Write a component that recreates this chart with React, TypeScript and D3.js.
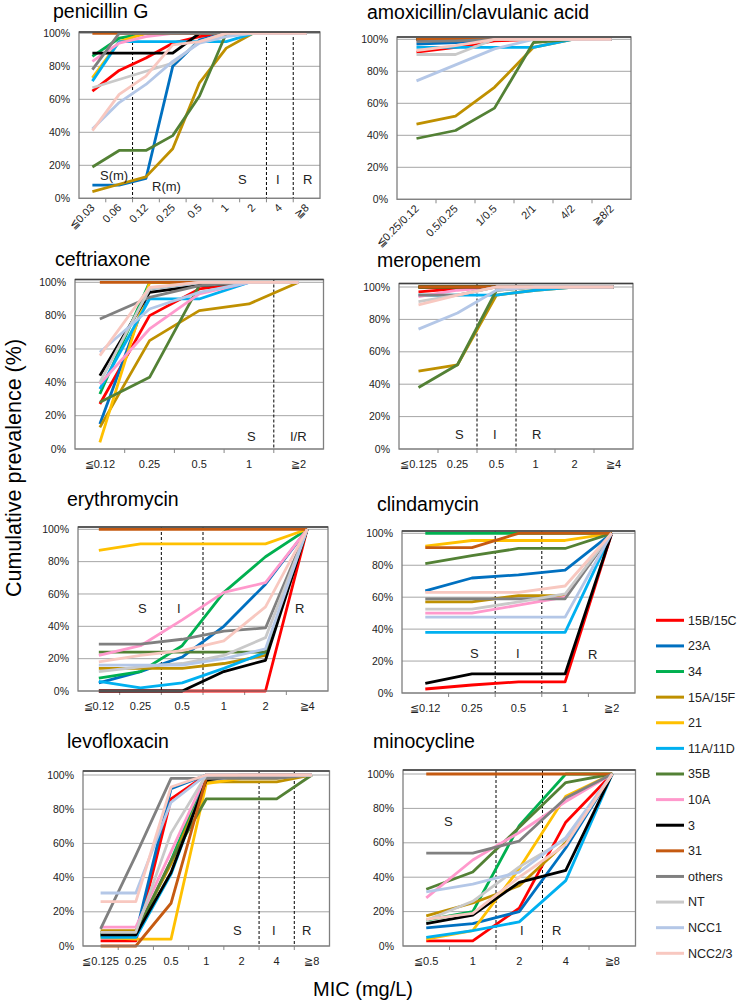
import React from "react";
import * as d3 from "d3";

const SERIES = ["15B/15C", "23A", "34", "15A/15F", "21", "11A/11D", "35B", "10A", "3", "31", "others", "NT", "NCC1", "NCC2/3"];
const COLORS = ["#FF0000", "#0070C0", "#00B050", "#BF9000", "#FFC000", "#00B0F0", "#538135", "#FF99CC", "#000000", "#C55A11", "#808080", "#C9C9C9", "#B4C7E7", "#F8C8C0"];
const Y_TICKS = [0, 20, 40, 60, 80, 100];

// penicillin G
const penCats = ["≦0.03", "0.06", "0.12", "0.25", "0.5", "1", "2", "4", "≧8"];
const penVals = [
  [65, 77.5, 85, 94, 98, 100, 100, 100, 100],
  [8, 8, 12, 80, 96, 100, 100, 100, 100],
  [86, 97, 100, 100, 100, 100, 100, 100, 100],
  [4, 8.5, 13, 30, 70, 91, 100, 100, 100],
  [73, 95, 100, 100, 100, 100, 100, 100, 100],
  [71, 95, 95, 95, 95, 95, 100, 100, 100],
  [19, 29, 29, 38, 62, 100, 100, 100, 100],
  [83, 94, 98, 100, 100, 100, 100, 100, 100],
  [88, 88, 88, 88, 100, 100, 100, 100, 100],
  [100, 100, 100, 100, 100, 100, 100, 100, 100],
  [78, 100, 100, 100, 100, 100, 100, 100, 100],
  [67, 72, 77, 82, 95, 100, 100, 100, 100],
  [42, 58, 69, 83, 94, 98, 100, 100, 100],
  [41, 63, 74, 93, 95, 100, 100, 100, 100],
];

// amoxicillin/clavulanic acid
const amoxCats = ["≦0.25/0.12", "0.5/0.25", "1/0.5", "2/1", "4/2", "≧8/2"];
const amoxVals = [
  [92, 95, 99, 100, 100, 100],
  [97, 98, 100, 100, 100, 100],
  [100, 100, 100, 100, 100, 100],
  [47, 52, 70, 95, 100, 100],
  [100, 100, 100, 100, 100, 100],
  [95, 95, 95, 95, 100, 100],
  [38, 43, 57, 98, 100, 100],
  [99, 100, 100, 100, 100, 100],
  [100, 100, 100, 100, 100, 100],
  [100, 100, 100, 100, 100, 100],
  [98.5, 99, 100, 100, 100, 100],
  [90.5, 90.5, 100, 100, 100, 100],
  [74, 84, 94, 100, 100, 100],
  [93, 96, 100, 100, 100, 100],
];

// ceftriaxone
const ceftCats = ["≦0.12", "0.25", "0.5", "1", "≧2"];
const ceftVals = [
  [27, 80, 96, 100, 100],
  [15, 96, 100, 100, 100],
  [33, 100, 100, 100, 100],
  [13, 65, 83, 87, 100],
  [4, 100, 100, 100, 100],
  [36, 90, 90, 100, 100],
  [28, 43, 98, 100, 100],
  [39, 72, 93, 100, 100],
  [44, 94, 98, 100, 100],
  [100, 100, 100, 100, 100],
  [78, 91, 98, 100, 100],
  [40, 96, 100, 100, 100],
  [58, 84, 94, 100, 100],
  [56, 97, 100, 100, 100],
];

// meropenem
const meroCats = ["≦0.125", "0.25", "0.5", "1", "2", "≧4"];
const meroVals = [
  [97, 99, 100, 100, 100, 100],
  [100, 100, 100, 100, 100, 100],
  [100, 100, 100, 100, 100, 100],
  [48, 52, 95, 98, 100, 100],
  [100, 100, 100, 100, 100, 100],
  [95, 95, 95, 98, 100, 100],
  [38, 52, 98, 100, 100, 100],
  [94, 98, 100, 100, 100, 100],
  [100, 100, 100, 100, 100, 100],
  [100, 100, 100, 100, 100, 100],
  [95, 95, 100, 100, 100, 100],
  [91, 95, 100, 100, 100, 100],
  [74, 84, 98, 100, 100, 100],
  [89, 95, 100, 100, 100, 100],
];

// erythromycin
const eryCats = ["≦0.12", "0.25", "0.5", "1", "2", "≧4"];
const eryVals = [
  [0, 0, 0, 0, 0, 100],
  [5, 12, 21, 40, 66, 100],
  [8, 12, 28, 61, 83, 100],
  [14, 14, 14, 17, 22, 100],
  [87, 91, 91, 91, 91, 100],
  [6, 2, 5, 14, 24, 100],
  [24, 24, 24, 24, 24, 100],
  [22, 28, 44, 61, 67, 100],
  [0, 0, 0, 12, 19, 100],
  [100, 100, 100, 100, 100, 100],
  [29, 29, 32, 37, 39, 100],
  [12, 15, 17, 22, 33, 100],
  [16, 16, 16, 20, 26, 100],
  [18, 22, 25, 31, 52, 100],
];

// clindamycin
const clinCats = ["≦0.12", "0.25", "0.5", "1", "≧2"];
const clinVals = [
  [2.5, 5, 7, 7, 100],
  [64, 72, 74, 77, 100],
  [100, 100, 100, 100, 100],
  [57, 57, 61, 61, 100],
  [92, 95.5, 95.5, 95.5, 100],
  [38, 38, 38, 38, 100],
  [81, 86, 90.5, 90.5, 100],
  [50, 50, 55, 60, 100],
  [6, 12, 12, 12, 100],
  [91, 91, 100, 100, 100],
  [59, 59, 59, 59, 100],
  [52.5, 52.5, 57, 62, 100],
  [47.5, 47.5, 47.5, 47.5, 100],
  [63, 63, 63, 67, 100],
];

// levofloxacin
const levoCats = ["≦0.125", "0.25", "0.5", "1", "2", "4", "≧8"];
const levoVals = [
  [3, 3, 86, 100, 100, 100, 100],
  [7, 7, 92, 100, 100, 100, 100],
  [6, 6, 50, 100, 100, 100, 100],
  [9, 9, 48, 96, 96, 96, 100],
  [5, 4, 4, 95, 98, 98, 100],
  [5, 5, 42, 98, 100, 100, 100],
  [8, 8, 50, 86, 86, 86, 100],
  [11, 11, 55, 100, 100, 100, 100],
  [6.5, 6.5, 43, 97, 100, 100, 100],
  [0, 0, 25, 98, 100, 100, 100],
  [10, 53, 98, 98, 98, 98, 100],
  [8, 8, 66, 100, 100, 100, 100],
  [31, 31, 84, 100, 100, 100, 100],
  [26, 26, 93, 100, 100, 100, 100],
];

// minocycline
const minoCats = ["≦0.5", "1", "2", "4", "≧8"];
const minoVals = [
  [3, 3, 22, 72, 100],
  [10.5, 13, 20, 57, 100],
  [15, 20, 70, 100, 100],
  [17.5, 25, 35, 60, 100],
  [4, 9, 45, 87, 100],
  [5, 9, 14, 38, 100],
  [33, 43, 69, 95, 100],
  [28, 50, 66, 84, 100],
  [13, 18, 37, 44, 100],
  [100, 100, 100, 100, 100],
  [54, 54, 61, 86, 100],
  [15, 26, 46, 62, 100],
  [31.5, 36, 43, 63, 100],
  [15.5, 19, 40, 59, 100],
];

const FONT = "'Liberation Sans', Arial, sans-serif";

type Zone = { t: string; x: number; y: number };
type Layout = {
  left: number; right: number; frameTop: number; y100: number; y0: number;
  titleX: number; titleY: number; rotate: boolean; dashed: number[]; zones: Zone[];
};

const panels: { title: string; cats: string[]; vals: number[][]; L: Layout }[] = [
  { title: "penicillin G", cats: penCats, vals: penVals, L: { left: 79, right: 320, frameTop: 32, y100: 33.3, y0: 198.3, titleX: 53, titleY: 18, rotate: true, dashed: [2, 7, 8],
    zones: [{ t: "S(m)", x: 100, y: 180 }, { t: "R(m)", x: 152, y: 191 }, { t: "S", x: 238, y: 184 }, { t: "I", x: 276, y: 184 }, { t: "R", x: 303, y: 184 }] } },
  { title: "amoxicillin/clavulanic acid", cats: amoxCats, vals: amoxVals, L: { left: 397, right: 631, frameTop: 37, y100: 39.3, y0: 199.3, titleX: 367, titleY: 19, rotate: true, dashed: [], zones: [] } },
  { title: "ceftriaxone", cats: ceftCats, vals: ceftVals, L: { left: 75, right: 323.5, frameTop: 279.5, y100: 282.3, y0: 449, titleX: 55, titleY: 265.5, rotate: false, dashed: [4],
    zones: [{ t: "S", x: 247, y: 441 }, { t: "I/R", x: 290, y: 441 }] } },
  { title: "meropenem", cats: meroCats, vals: meroVals, L: { left: 399, right: 633, frameTop: 283.5, y100: 287, y0: 449, titleX: 377, titleY: 267, rotate: false, dashed: [2, 3],
    zones: [{ t: "S", x: 455, y: 439 }, { t: "I", x: 493, y: 439 }, { t: "R", x: 532, y: 439 }] } },
  { title: "erythromycin", cats: eryCats, vals: eryVals, L: { left: 78, right: 328, frameTop: 527, y100: 529.3, y0: 691, titleX: 67, titleY: 506, rotate: false, dashed: [2, 3],
    zones: [{ t: "S", x: 138, y: 613 }, { t: "I", x: 177, y: 613 }, { t: "R", x: 295, y: 613 }] } },
  { title: "clindamycin", cats: clinCats, vals: clinVals, L: { left: 402, right: 635, frameTop: 531, y100: 533.3, y0: 693, titleX: 377, titleY: 511, rotate: false, dashed: [2, 3],
    zones: [{ t: "S", x: 470, y: 658 }, { t: "I", x: 516, y: 658 }, { t: "R", x: 588, y: 659 }] } },
  { title: "levofloxacin", cats: levoCats, vals: levoVals, L: { left: 83, right: 329.5, frameTop: 771, y100: 775, y0: 946, titleX: 67, titleY: 748, rotate: false, dashed: [5, 6],
    zones: [{ t: "S", x: 233, y: 935 }, { t: "I", x: 272, y: 935 }, { t: "R", x: 302, y: 935 }] } },
  { title: "minocycline", cats: minoCats, vals: minoVals, L: { left: 403, right: 635.5, frameTop: 770, y100: 774, y0: 946, titleX: 373, titleY: 748, rotate: false, dashed: [2, 3],
    zones: [{ t: "S", x: 444, y: 826 }, { t: "I", x: 520, y: 935 }, { t: "R", x: 552, y: 935 }] } },
];

function Panel({ title, cats, vals, L }: { title: string; cats: string[]; vals: number[][]; L: Layout }) {
  const x = d3.scaleBand<string>().domain(cats).range([L.left, L.right]).paddingInner(0).paddingOuter(0);
  const y = d3.scaleLinear().domain([0, 100]).range([L.y0, L.y100]);
  const bw = x.bandwidth();
  const cx = (c: string) => (x(c) as number) + bw / 2;
  const line = d3.line<number>().x((_, i) => cx(cats[i])).y((d) => y(d));
  return (
    <g>
      <text x={L.titleX} y={L.titleY} fontSize={19.5} fontFamily={FONT} fill="#000">{title}</text>
      <rect x={L.left} y={L.frameTop} width={L.right - L.left} height={L.y0 - L.frameTop} fill="#fff" />
      {Y_TICKS.map((t) => (
        <line key={"g" + t} x1={L.left} x2={L.right} y1={y(t)} y2={y(t)} stroke="#A6A6A6" strokeWidth={1} />
      ))}
      {Y_TICKS.map((t) => (
        <text key={"t" + t} x={L.left - 9} y={y(t)} dy="0.35em" textAnchor="end" fontSize={10.5} fontFamily={FONT} fill="#222">{t + "%"}</text>
      ))}
      {cats.slice(1).map((c) => (
        <line key={"k" + c} x1={x(c) as number} x2={x(c) as number} y1={L.y0} y2={L.y0 + 4} stroke="#868686" strokeWidth={1} />
      ))}
      {L.dashed.map((k) => (
        <line key={"d" + k} x1={L.left + k * bw} x2={L.left + k * bw} y1={L.frameTop} y2={L.y0} stroke="#000" strokeWidth={1} strokeDasharray="3,2" />
      ))}
      {vals.map((v, i) => (
        <path key={"s" + i} d={line(v) as string} fill="none" stroke={COLORS[i]} strokeWidth={2.8} strokeLinejoin="round" />
      ))}
      <rect x={L.left} y={L.frameTop} width={L.right - L.left} height={L.y0 - L.frameTop} fill="none" stroke="#7F7F7F" strokeWidth={1.3} />
      <line x1={L.left} x2={L.right} y1={L.frameTop} y2={L.frameTop} stroke="#404040" strokeWidth={1.3} />
      {L.zones.map((z, i) => (
        <text key={"z" + i} x={z.x} y={z.y} fontSize={13} fontFamily={FONT} fill="#222">{z.t}</text>
      ))}
      {cats.map((c) =>
        L.rotate ? (
          <text key={"c" + c} transform={`translate(${cx(c) + 3},${L.y0 + 10}) rotate(-45)`} textAnchor="end" fontSize={11} fontFamily={FONT} fill="#222">{c}</text>
        ) : (
          <text key={"c" + c} x={cx(c)} y={L.y0 + 18.5} textAnchor="middle" fontSize={11} fontFamily={FONT} fill="#222">{c}</text>
        )
      )}
    </g>
  );
}

export default function App() {
  const legendY = d3.scaleLinear().domain([0, SERIES.length - 1]).range([620.3, 953.3]);
  return (
    <svg width={750} height={1003} style={{ position: "absolute", left: 0, top: 0, background: "#fff" }}>
      <rect x={0} y={0} width={750} height={1003} fill="#fff" />
      {panels.map((p) => (
        <Panel key={p.title} title={p.title} cats={p.cats} vals={p.vals} L={p.L} />
      ))}
      <text transform="translate(21,468) rotate(-90)" textAnchor="middle" fontSize={21.5} fontFamily={FONT} fill="#000">Cumulative prevalence (%)</text>
      <text x={363} y={996} textAnchor="middle" fontSize={20} fontFamily={FONT} fill="#000">MIC (mg/L)</text>
      {SERIES.map((s, i) => (
        <g key={"l" + s}>
          <line x1={656} x2={684} y1={legendY(i)} y2={legendY(i)} stroke={COLORS[i]} strokeWidth={3} />
          <text x={688} y={legendY(i)} dy="0.35em" fontSize={12.5} fontFamily={FONT} fill="#222">{s}</text>
        </g>
      ))}
    </svg>
  );
}
